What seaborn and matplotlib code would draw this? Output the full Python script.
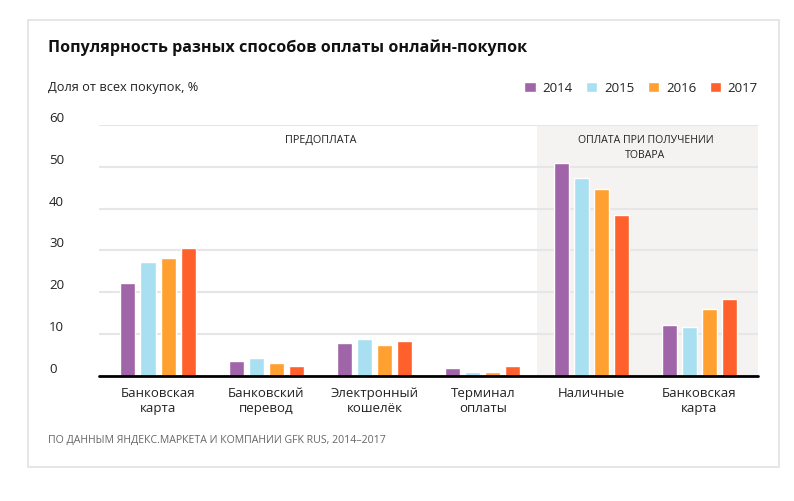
import pandas as pd
import matplotlib.pyplot as plt
import seaborn as sns
from matplotlib.patches import Rectangle

# Данные (оценка по картинке), % от всех покупок
categories = ['card_pre', 'transfer', 'wallet', 'terminal', 'cash', 'card_post']
cat_labels = ['Банковская\nкарта', 'Банковский\nперевод', 'Электронный\nкошелёк',
              'Терминал\nоплаты', 'Наличные', 'Банковская\nкарта']
years = ['2014', '2015', '2016', '2017']
v2014 = [22.3, 3.5, 7.9, 1.8, 51.0, 12.3]
v2015 = [27.3, 4.3, 8.8, 1.0, 47.4, 11.8]
v2016 = [28.3, 3.1, 7.4, 1.0, 44.6, 15.9]
v2017 = [30.5, 2.3, 8.4, 2.3, 38.6, 18.3]
y_ticks = [0, 10, 20, 30, 40, 50, 60]

colors = ['#A064A8', '#A8E0F2', '#FFA030', '#FF602C']

rows = []
for year, vals in zip(years, [v2014, v2015, v2016, v2017]):
    for cat, v in zip(categories, vals):
        rows.append({'category': cat, 'year': year, 'value': v})
df = pd.DataFrame(rows)

sns.set_theme(style='white')
plt.rcParams['font.family'] = ['Open Sans', 'DejaVu Sans']
text_color = '#222222'

fig = plt.figure(figsize=(7.94, 5.01), dpi=100)
ax = fig.add_axes([99 / 794, 1 - 376 / 501, 659 / 794, 251 / 501])

# рамка карточки
fig.patches.append(Rectangle((28 / 794, 1 - 467 / 501), 751 / 794, 447 / 501,
                             transform=fig.transFigure, fill=False,
                             edgecolor='#E2E2E2', lw=1.2))

# фон для "оплаты при получении"
ax.axvspan(3.5, 5.6, color='#F4F3F2', zorder=0, lw=0)

sns.barplot(data=df, x='category', y='value', hue='year', order=categories,
            hue_order=years, palette=colors, width=0.74, gap=0.25,
            saturation=1, ax=ax, zorder=2)

ax.set_xlim(-0.545, 5.54)
ax.set_ylim(0, 60)
ax.set_xlabel('')
ax.set_ylabel('')
sns.despine(ax=ax, left=True, bottom=True)

ax.yaxis.grid(True, color='#E6E6E6', lw=1.5)
ax.set_axisbelow(True)
ax.axhline(0, color='black', lw=2, zorder=4, clip_on=False)

ax.set_yticks(y_ticks)
ax.set_yticklabels([str(t) for t in y_ticks])
ax.tick_params(axis='y', length=0, pad=36, labelsize=9.5, labelcolor=text_color)
for lab in ax.get_yticklabels():
    lab.set_ha('left')
    lab.set_va('bottom')

ax.set_xticks(range(len(categories)))
ax.set_xticklabels(cat_labels)
ax.tick_params(axis='x', length=0, pad=8, labelsize=9.5, labelcolor=text_color)

# подписи групп
ax.text(1.5, 56.3, 'ПРЕДОПЛАТА', ha='center', va='center', fontsize=7.8,
        color=text_color)
ax.text(4.5, 54.5, 'ОПЛАТА ПРИ ПОЛУЧЕНИИ\nТОВАРА', ha='center', va='center',
        fontsize=7.6, color=text_color, linespacing=1.5)

# легенда
handles, labels = ax.get_legend_handles_labels()
ax.legend(handles, labels, loc='center right',
          bbox_to_anchor=(758 / 794, 1 - 88 / 501), bbox_transform=fig.transFigure,
          ncol=4, frameon=False, handlelength=0.85, handleheight=0.85,
          handletextpad=0.5, columnspacing=1.05, fontsize=9.5,
          borderpad=0, borderaxespad=0, labelcolor=text_color)

fig.text(48 / 794, 1 - 48 / 501, 'Популярность разных способов оплаты онлайн-покупок',
         fontsize=11.6, fontweight='bold', va='center', color='#111111')
fig.text(48 / 794, 1 - 88 / 501, 'Доля от всех покупок, %', fontsize=9.2,
         va='center', color=text_color)
fig.text(48 / 794, 1 - 440 / 501,
         'ПО ДАННЫМ ЯНДЕКС.МАРКЕТА И КОМПАНИИ GFK RUS, 2014–2017',
         fontsize=7.6, va='center', color='#666666')

fig.savefig('out.png', dpi=100)
